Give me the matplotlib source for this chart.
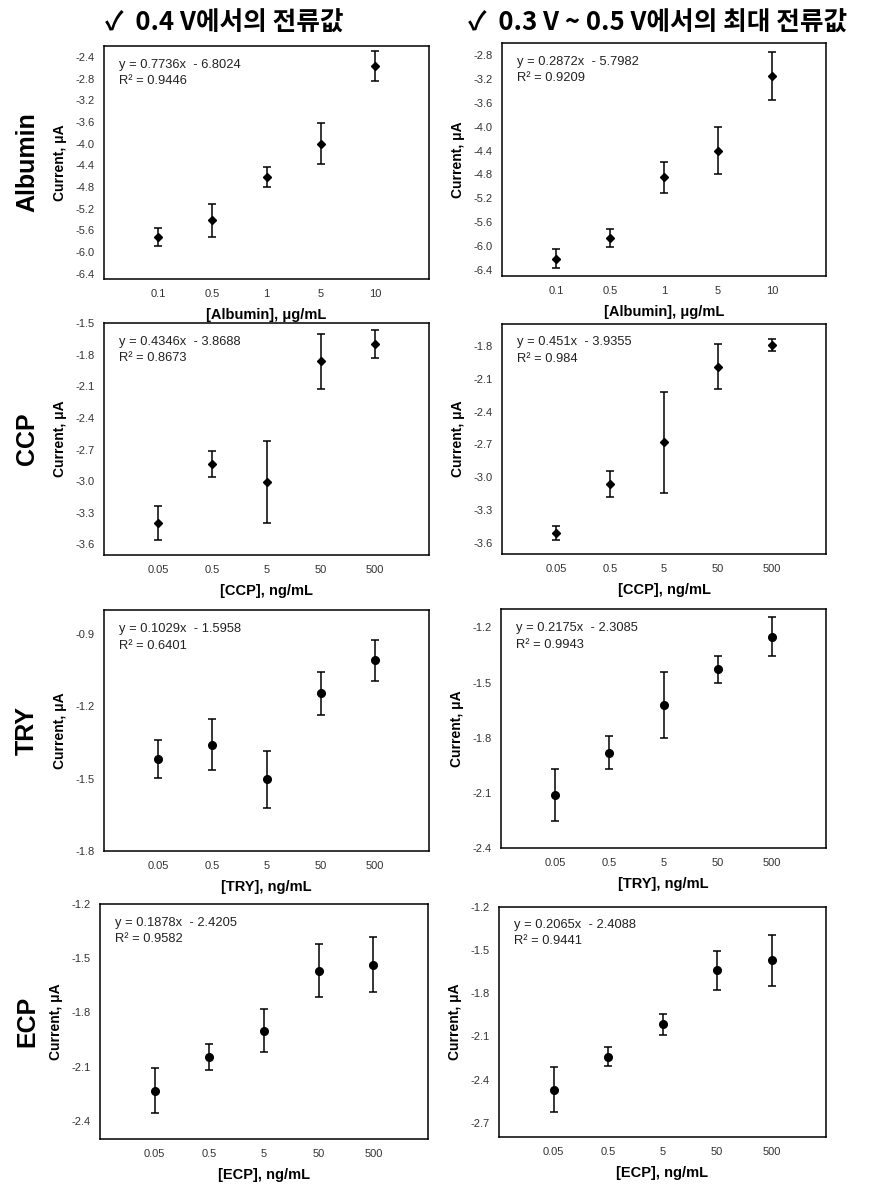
import matplotlib
matplotlib.use("Agg")
import matplotlib.pyplot as plt
import numpy as np

# ---------------- data ----------------
alb_conc = ["0.1", "0.5", "1", "5", "10"]
ng_conc = ["0.05", "0.5", "5", "50", "500"]

alb_04_mean = [-5.72, -5.42, -4.62, -4.00, -2.57]
alb_04_err = [0.165, 0.31, 0.18, 0.37, 0.28]
alb_max_mean = [-6.21, -5.86, -4.85, -4.40, -3.15]
alb_max_err = [0.16, 0.15, 0.26, 0.40, 0.40]

ccp_04_mean = [-3.40, -2.84, -3.01, -1.865, -1.70]
ccp_04_err = [0.16, 0.125, 0.39, 0.26, 0.13]
ccp_max_mean = [-3.51, -3.06, -2.68, -1.99, -1.79]
ccp_max_err = [0.065, 0.12, 0.46, 0.205, 0.053]

try_04_mean = [-1.418, -1.359, -1.503, -1.146, -1.009]
try_04_err = [0.078, 0.106, 0.12, 0.09, 0.085]
try_max_mean = [-2.112, -1.882, -1.6225, -1.427, -1.251]
try_max_err = [0.14, 0.09, 0.18, 0.073, 0.105]

ecp_04_mean = [-2.233, -2.047, -1.901, -1.568, -1.535]
ecp_04_err = [0.125, 0.07, 0.12, 0.148, 0.151]
ecp_max_mean = [-2.472, -2.240, -2.017, -1.639, -1.572]
ecp_max_err = [0.157, 0.066, 0.073, 0.135, 0.178]

equations = [
    ("y = 0.7736x  - 6.8024", "R² = 0.9446"),
    ("y = 0.2872x  - 5.7982", "R² = 0.9209"),
    ("y = 0.4346x  - 3.8688", "R² = 0.8673"),
    ("y = 0.451x  - 3.9355", "R² = 0.984"),
    ("y = 0.1029x  - 1.5958", "R² = 0.6401"),
    ("y = 0.2175x  - 2.3085", "R² = 0.9943"),
    ("y = 0.1878x  - 2.4205", "R² = 0.9582"),
    ("y = 0.2065x  - 2.4088", "R² = 0.9441"),
]

row_names = ["Albumin", "CCP", "TRY", "ECP"]
xlabels = ["[Albumin], μg/mL", "[CCP], ng/mL", "[TRY], ng/mL", "[ECP], ng/mL"]
headers = ["✓  0.4 V에서의 전류값", "✓  0.3 V ~ 0.5 V에서의 최대 전류값"]

panels = [
    (alb_conc, alb_04_mean, alb_04_err, (-6.5, -2.2), np.arange(-6.4, -2.39, 0.4), "D"),
    (alb_conc, alb_max_mean, alb_max_err, (-6.5, -2.6), np.arange(-6.4, -2.79, 0.4), "D"),
    (ng_conc, ccp_04_mean, ccp_04_err, (-3.7, -1.5), np.arange(-3.6, -1.49, 0.3), "D"),
    (ng_conc, ccp_max_mean, ccp_max_err, (-3.7, -1.6), np.arange(-3.6, -1.79, 0.3), "D"),
    (ng_conc, try_04_mean, try_04_err, (-1.8, -0.8), np.arange(-1.8, -0.89, 0.3), "o"),
    (ng_conc, try_max_mean, try_max_err, (-2.4, -1.1), np.arange(-2.4, -1.19, 0.3), "o"),
    (ng_conc, ecp_04_mean, ecp_04_err, (-2.5, -1.2), np.arange(-2.4, -1.19, 0.3), "o"),
    (ng_conc, ecp_max_mean, ecp_max_err, (-2.8, -1.2), np.arange(-2.7, -1.19, 0.3), "o"),
]

# axes rectangles in pixels: (left, top, right, bottom)
rects = [
    (104, 46, 429, 279), (502, 43, 826, 276),
    (104, 323, 429, 555), (502, 324, 826, 554),
    (104, 610, 429, 851), (501, 609, 826, 848),
    (100, 904, 428, 1139), (499, 907, 826, 1137),
]

W, H = 890, 1188
fig = plt.figure(figsize=(W / 100, H / 100), dpi=100)
fig.patch.set_facecolor("white")

sans = ["Liberation Sans", "DejaVu Sans"]

for i, (cats, mean, err, ylim, yticks, mk) in enumerate(panels):
    l, t, r, b = rects[i]
    ax = fig.add_axes([l / W, 1 - b / H, (r - l) / W, (b - t) / H])
    x = np.arange(1, len(cats) + 1)
    ax.errorbar(x, mean, yerr=err, fmt=mk, color="black", ms=4.5 if mk == "D" else 5.5,
                ecolor="black", elinewidth=1.1, capsize=3, capthick=1.1)
    ax.set_xlim(0, 6)
    ax.set_ylim(*ylim)
    ax.set_xticks(x)
    ax.set_xticklabels(cats)
    ax.set_yticks(yticks)
    ax.set_yticklabels([f"{v:.1f}" for v in yticks])
    ax.tick_params(length=0, labelsize=8, labelcolor="#333333", pad=7)
    for lab in ax.get_xticklabels() + ax.get_yticklabels():
        lab.set_family(sans)
    for s in ax.spines.values():
        s.set_linewidth(1.1)
    row = i // 2
    ax.set_xlabel(xlabels[row], fontsize=10.5, fontweight="bold", family=sans, labelpad=7)
    ax.set_ylabel("Current, μA", fontsize=10, fontweight="bold", family=sans, labelpad=6)
    eq, r2 = equations[i]
    ax.text(0.045, 0.92, eq, transform=ax.transAxes, fontsize=9.3, family=sans,
            color="#222222", va="center", ha="left")
    ax.text(0.045, 0.85, r2, transform=ax.transAxes, fontsize=9.3, family=sans,
            color="#222222", va="center", ha="left")
    if i % 2 == 0:
        cy = 1 - ((t + b) / 2) / H
        fig.text(27 / W, cy, row_names[row], rotation=90, fontsize=18, fontweight="bold",
                 family=sans, ha="center", va="center")

fig.text(105 / W, 1 - 23 / H, headers[0], fontsize=18.5, fontweight="bold",
         family=["Noto Sans CJK KR", "DejaVu Sans"], ha="left", va="center")
fig.text(468 / W, 1 - 23 / H, headers[1], fontsize=18.5, fontweight="bold",
         family=["Noto Sans CJK KR", "DejaVu Sans"], ha="left", va="center")

fig.savefig("out.png", dpi=100, facecolor="white")
